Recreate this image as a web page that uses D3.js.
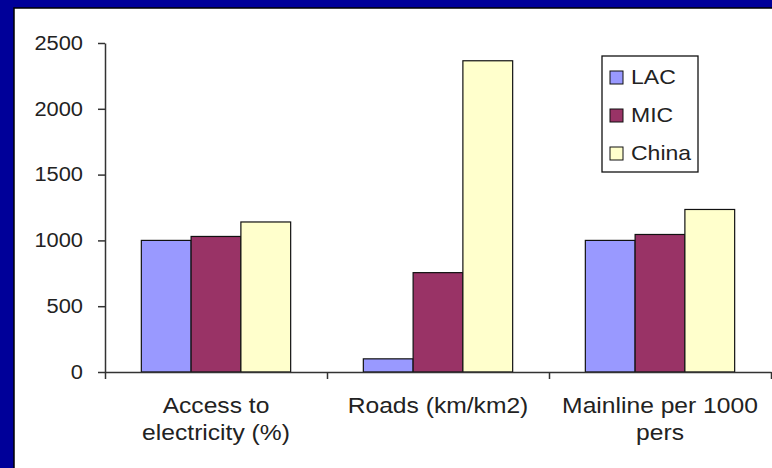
<!DOCTYPE html>
<html>
<head>
<meta charset="utf-8">
<script src="https://cdn.jsdelivr.net/npm/d3@7"></script>
<style>
  html, body { margin: 0; padding: 0; background: #000099; }
  svg { display: block; }
  text { font-family: "Liberation Sans", Arial, sans-serif; fill: #222; }
</style>
</head>
<body>
<svg id="chart" width="772" height="468"></svg>
<script>
// Infrastructure indicators, LAC = 1000
const categories = [["Access to", "electricity (%)"], ["Roads (km/km2)"], ["Mainline per 1000", "pers"]];
const seriesNames = ["LAC", "MIC", "China"];
const lacValues = [1000, 100, 1000];
const micValues = [1030, 755, 1045];
const chinaValues = [1140, 2365, 1235];
const yTicks = [0, 500, 1000, 1500, 2000, 2500];
const colors = ["#9999FF", "#993366", "#FFFFCC"];

const series = [lacValues, micValues, chinaValues];
const stretch = 1.12; // slightly wide lettering

const svg = d3.select("#chart");

// white panel with dark edge inside the blue frame
svg.append("rect")
  .attr("x", 14).attr("y", 8)
  .attr("width", 800).attr("height", 500)
  .attr("fill", "#fff")
  .attr("stroke", "#000").attr("stroke-width", 1.5);

const x0 = 105, x1 = 771, yTop = 43, yBottom = 372;

const y = d3.scaleLinear().domain([0, 2500]).range([yBottom, yTop]);
const xCat = d3.scaleBand().domain(d3.range(categories.length)).range([x0, x1]).paddingInner(0).paddingOuter(0);
const xSer = d3.scaleBand().domain(d3.range(seriesNames.length)).range([0, xCat.bandwidth()]).paddingInner(0).paddingOuter(0.73);

// bars
const g = svg.append("g");
categories.forEach((c, ci) => {
  series.forEach((vals, si) => {
    g.append("rect")
      .attr("x", xCat(ci) + xSer(si))
      .attr("y", y(vals[ci]))
      .attr("width", xSer.bandwidth())
      .attr("height", y(0) - y(vals[ci]))
      .attr("fill", colors[si])
      .attr("stroke", "#111")
      .attr("stroke-width", 1.2);
  });
});

// y axis
const yAxis = svg.append("g")
  .attr("transform", `translate(${x0},0)`)
  .call(d3.axisLeft(y).tickValues(yTicks).tickFormat(d3.format("d")).tickSize(7).tickSizeOuter(0));
yAxis.selectAll("path, line").attr("stroke", "#333").attr("stroke-width", 1.5);
yAxis.selectAll("text")
  .attr("font-size", 19.5).attr("fill", "#222")
  .attr("x", -22 / stretch)
  .attr("transform", `scale(${stretch},1)`)
  .style("font-family", "'Liberation Sans', Arial, sans-serif");

// x axis: ticks at category boundaries
const xBound = d3.scaleLinear().domain([0, categories.length]).range([x0, x1]);
const xAxis = svg.append("g")
  .attr("transform", `translate(0,${yBottom})`)
  .call(d3.axisBottom(xBound).tickValues(d3.range(categories.length + 1)).tickFormat("").tickSize(7).tickSizeOuter(0));
xAxis.selectAll("path, line").attr("stroke", "#333").attr("stroke-width", 1.5);

// category labels
categories.forEach((lines, ci) => {
  const t = svg.append("text")
    .attr("text-anchor", "middle")
    .attr("font-size", 22)
    .attr("transform", `translate(${xCat(ci) + xCat.bandwidth() / 2},413) scale(${stretch},1)`);
  lines.forEach((ln, li) => {
    t.append("tspan")
      .attr("x", 0)
      .attr("y", li * 27)
      .text(ln);
  });
});

// legend
const legend = svg.append("g").attr("transform", "translate(602,56)");
legend.append("rect")
  .attr("width", 96).attr("height", 116)
  .attr("fill", "#fff").attr("stroke", "#111").attr("stroke-width", 1.3);
seriesNames.forEach((name, i) => {
  const row = legend.append("g").attr("transform", `translate(0,${i * 38})`);
  row.append("rect")
    .attr("x", 8).attr("y", 15)
    .attr("width", 13).attr("height", 13)
    .attr("fill", colors[i]).attr("stroke", "#111").attr("stroke-width", 1);
  row.append("text")
    .attr("transform", `translate(29,28) scale(1.15,1)`)
    .attr("font-size", 20)
    .text(name);
});
</script>
</body>
</html>
